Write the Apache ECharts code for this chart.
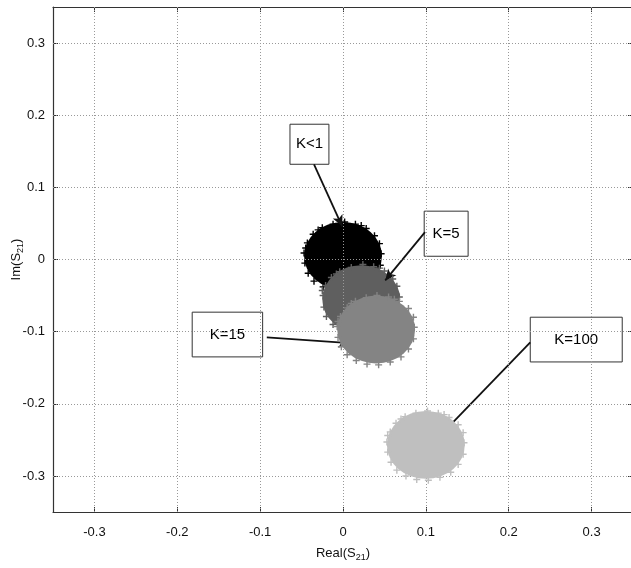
<!DOCTYPE html>
<html><head><meta charset="utf-8">
<script src="https://cdn.jsdelivr.net/npm/echarts@6/dist/echarts.min.js"></script>
<style>html,body{margin:0;padding:0;background:#fff}#c{width:631px;height:568px}</style>
</head><body><div id="c"></div>
<script>
// ---- data ----
const xTicks = [-0.3, -0.2, -0.1, 0, 0.1, 0.2, 0.3];
const yTicks = [-0.3, -0.2, -0.1, 0, 0.1, 0.2, 0.3];
const clusterNames = ['K<1', 'K=5', 'K=15', 'K=100'];
const clusterColors = ['#000000', '#5f5f5f', '#848484', '#bfbfbf'];
const clusterCenters = [[0.0, 0.005], [0.022, -0.055], [0.040, -0.097], [0.100, -0.257]];
const clusterRadius = [0.047, 0.047, 0.047, 0.047];
const fuzzK1 = [[0.046,0.008],[0.044,0.022],[0.038,0.033],[0.028,0.043],[0.015,0.049],[0.002,0.052],[-0.012,0.049],[-0.025,0.044],[-0.036,0.035],[-0.043,0.023],[-0.047,0.009],[-0.046,-0.005],[-0.042,-0.019],[-0.035,-0.03],[-0.024,-0.038],[-0.011,-0.042],[0.003,-0.043],[0.017,-0.04],[0.03,-0.033],[0.039,-0.022],[0.045,-0.008],[-0.03,0.041],[0.022,0.047],[-0.045,0.016]];
const fuzzK5 = [[0.068,-0.052],[0.065,-0.037],[0.06,-0.027],[0.05,-0.016],[0.037,-0.01],[0.024,-0.007],[0.01,-0.011],[-0.004,-0.017],[-0.014,-0.025],[-0.021,-0.036],[-0.024,-0.05],[-0.023,-0.066],[-0.02,-0.079],[-0.012,-0.09],[-0.002,-0.098],[0.011,-0.102],[0.025,-0.103],[0.039,-0.099],[0.052,-0.093],[0.061,-0.082],[0.067,-0.068],[-0.008,-0.02],[0.044,-0.012],[-0.025,-0.043]];
const fuzzK15 = [[0.086,-0.094],[0.085,-0.08],[0.079,-0.068],[0.068,-0.058],[0.055,-0.052],[0.041,-0.05],[0.028,-0.053],[0.015,-0.058],[0.005,-0.067],[-0.003,-0.079],[-0.007,-0.093],[-0.006,-0.108],[-0.002,-0.121],[0.005,-0.132],[0.016,-0.14],[0.029,-0.145],[0.043,-0.146],[0.057,-0.142],[0.07,-0.135],[0.079,-0.124],[0.085,-0.11],[0.01,-0.061],[0.062,-0.055],[-0.006,-0.086]];
const fuzzK100 = [[0.146,-0.254],[0.145,-0.24],[0.139,-0.229],[0.128,-0.219],[0.115,-0.213],[0.102,-0.21],[0.088,-0.213],[0.075,-0.218],[0.064,-0.227],[0.057,-0.239],[0.053,-0.253],[0.054,-0.267],[0.058,-0.281],[0.065,-0.292],[0.076,-0.3],[0.089,-0.305],[0.103,-0.306],[0.117,-0.302],[0.13,-0.295],[0.139,-0.284],[0.145,-0.27],[0.07,-0.221],[0.122,-0.215],[0.054,-0.244]];
const fuzzSets = [fuzzK1, fuzzK5, fuzzK15, fuzzK100];
// annotation boxes [x0, y0, x1, y1] and arrows [from, to] in data units
const annotBoxes = [[-0.064, 0.1875, -0.017, 0.132], [0.098, 0.067, 0.151, 0.0045], [-0.182, -0.073, -0.097, -0.135], [0.226, -0.080, 0.337, -0.142]];
const arrowFrom = [[-0.035, 0.132], [0.099, 0.038], [-0.092, -0.108], [0.226, -0.115]];
const arrowTo = [[-0.001, 0.046], [0.051, -0.029], [0.008, -0.116], [0.114, -0.248]];

const FONT = 'Liberation Sans';
const plusPath = 'path://M4,0H6V4H10V6H6V10H4V6H0V4H4Z';

const series = [];
clusterNames.forEach((n, i) => {
  series.push({
    type: 'custom', name: n + ' disk', z: 2 + i * 2, silent: true,
    data: [[clusterCenters[i][0], clusterCenters[i][1], clusterRadius[i]]],
    renderItem: function (params, api) {
      const c = api.coord([api.value(0), api.value(1)]);
      const s = api.size([api.value(2), api.value(2)]);
      return { type: 'circle', shape: { cx: 0, cy: 0, r: 1 }, x: c[0], y: c[1], scaleX: s[0], scaleY: s[1],
        style: { fill: clusterColors[i] } };
    }
  });
  series.push({
    type: 'scatter', name: n, z: 3 + i * 2, silent: true,
    symbol: plusPath, symbolSize: 7,
    itemStyle: { color: clusterColors[i], opacity: 1 },
    data: fuzzSets[i]
  });
});
// annotations
series.push({
  type: 'scatter', name: 'annot', z: 20, silent: true, data: [],
  markArea: {
    silent: true,
    itemStyle: { color: '#fff', borderColor: '#333', borderWidth: 1 },
    label: { show: true, position: 'inside', fontFamily: FONT, fontSize: 15, color: '#000' },
    data: annotBoxes.map((b, i) => [{ name: clusterNames[i], coord: [b[0], b[1]] }, { coord: [b[2], b[3]] }])
  },
  markLine: {
    silent: true, symbol: ['none', 'arrow'], symbolSize: [8, 11], precision: 4,
    lineStyle: { color: '#111', width: 1.8, type: 'solid' },
    label: { show: false },
    data: arrowFrom.map((f, i) => [{ coord: f }, { coord: arrowTo[i] }])
  }
});

function mkAxis(pos, ticks, isX, showLabel) {
  return {
    type: 'value', min: -0.35, max: 0.35, interval: 0.05, position: pos,
    axisLine: { show: true, onZero: false, lineStyle: { color: '#333', width: 1.2 } },
    axisTick: { show: true, inside: true, length: 5, customValues: ticks, lineStyle: { color: '#333' } },
    axisLabel: { show: showLabel, customValues: ticks, formatter: v => String(Math.round(v * 10) / 10),
      fontFamily: FONT, fontSize: 13, color: '#111', margin: isX ? 14 : 8 },
    splitLine: { show: false }
  };
}
const nameRich = { n: { fontFamily: FONT, fontSize: 13, color: '#111' }, s: { fontFamily: FONT, fontSize: 9, color: '#111', padding: [8, 0, 0, 0] } };
const xb = mkAxis('bottom', xTicks, true, true);
Object.assign(xb, { name: '{n|Real(S}{s|21}{n|)}', nameLocation: 'middle', nameGap: 33, nameMoveOverlap: false, nameTextStyle: { rich: nameRich } });
const yl = mkAxis('left', yTicks, false, true);
Object.assign(yl, { name: '{n|Im(S}{s|21}{n|)}', nameLocation: 'middle', nameGap: 28, nameRotate: 90, nameMoveOverlap: false, nameTextStyle: { rich: nameRich } });

// grid lines drawn as dotted mark lines at tick values
series.push({
  type: 'scatter', name: 'gridlines', z: 1, silent: true, data: [],
  markLine: {
    silent: true, symbol: ['none', 'none'], label: { show: false },
    lineStyle: { color: '#999', width: 1, type: [1, 2] },
    data: xTicks.map(v => ({ xAxis: v })).concat(yTicks.map(v => ({ yAxis: v })))
  }
});

const option = {
  animation: false,
  backgroundColor: '#fff',
  grid: { left: 53, right: -2, top: 7, bottom: 56, outerBoundsMode: 'none', containLabel: false },
  xAxis: [xb, mkAxis('top', xTicks, true, false)],
  yAxis: [yl, mkAxis('right', yTicks, false, false)],
  series: series
};
const chart = echarts.init(document.getElementById('c'), null, { renderer: 'canvas' });
chart.setOption(option);
</script></body></html>
